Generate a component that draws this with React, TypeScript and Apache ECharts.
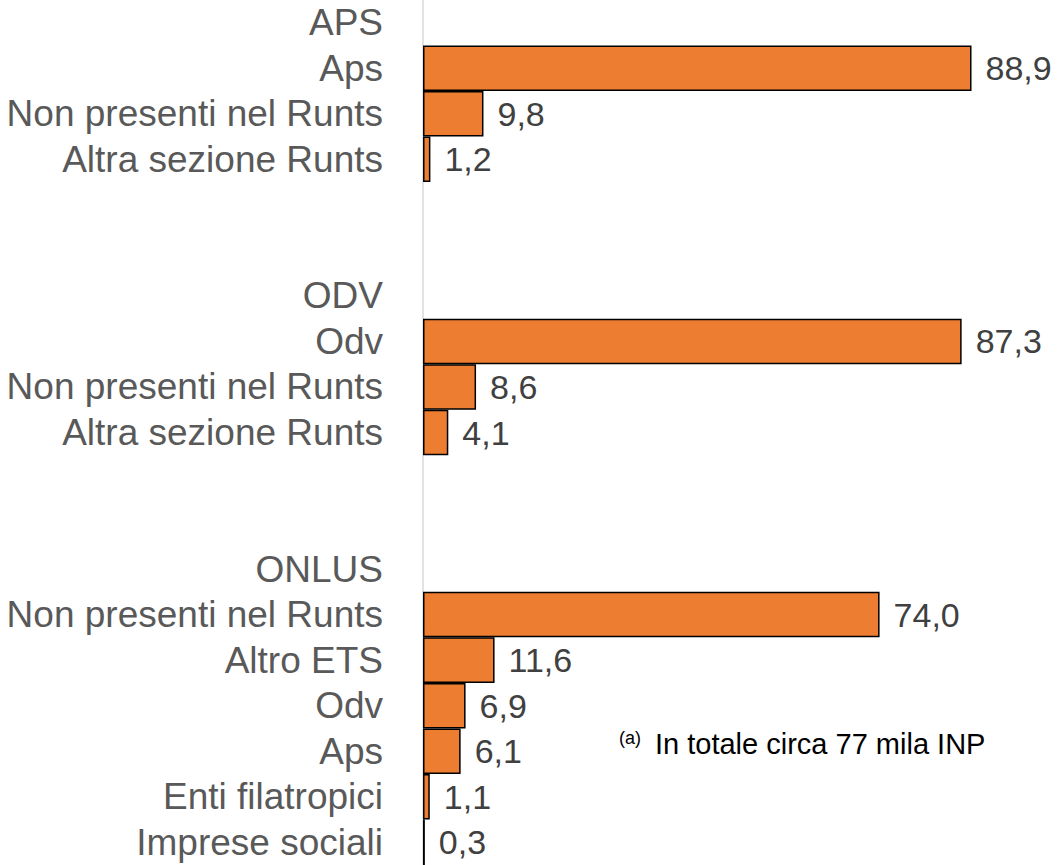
import React, { useEffect, useRef } from "react";
import * as echarts from "echarts";

const categories: string[] = [
  "APS",
  "Aps",
  "Non presenti nel Runts",
  "Altra sezione Runts",
  "",
  "",
  "ODV",
  "Odv",
  "Non presenti nel Runts",
  "Altra sezione Runts",
  "",
  "",
  "ONLUS",
  "Non presenti nel Runts",
  "Altro ETS",
  "Odv",
  "Aps",
  "Enti filatropici",
  "Imprese sociali",
];

const values: (number | null)[] = [
  null, 88.9, 9.8, 1.2, null, null,
  null, 87.3, 8.6, 4.1, null, null,
  null, 74.0, 11.6, 6.9, 6.1, 1.1, 0.3,
];

const footnoteMark = "(a)";
const footnoteText = "In totale circa 77 mila INP";

export default function App() {
  const ref = useRef<HTMLDivElement>(null);

  useEffect(() => {
    document.body.style.margin = "0";
    if (!ref.current) return;
    const chart = echarts.init(ref.current, null, { renderer: "svg" });
    chart.setOption({
      animation: false,
      backgroundColor: "#ffffff",
      grid: {
        left: 423,
        right: 24,
        top: 0,
        bottom: 0,
        containLabel: false,
        outerBoundsMode: "none",
      },
      xAxis: {
        type: "value",
        min: 0,
        max: 100,
        show: false,
      },
      yAxis: {
        type: "category",
        inverse: true,
        data: categories,
        axisLine: { show: true, lineStyle: { color: "#d9d9d9", width: 1.5 } },
        axisTick: { show: false },
        splitLine: { show: false },
        axisLabel: {
          interval: 0,
          margin: 40,
          color: "#595959",
          fontSize: 37,
          fontFamily: "'Liberation Sans', Arial, sans-serif",
        },
      },
      series: [
        {
          type: "bar",
          data: values,
          barCategoryGap: "0%",
          itemStyle: { color: "#ED7D31", borderColor: "#000000", borderWidth: 1.5 },
          label: {
            show: true,
            position: "right",
            distance: 14,
            color: "#404040",
            fontSize: 34,
            fontFamily: "'Liberation Sans', Arial, sans-serif",
            formatter: (p: any) =>
              p.value == null ? "" : Number(p.value).toFixed(1).replace(".", ","),
          },
        },
      ],
      graphic: [
        {
          type: "text",
          left: 619,
          top: 729,
          style: {
            text: footnoteMark,
            fontSize: 18,
            fontFamily: "'Liberation Sans', Arial, sans-serif",
            fill: "#000000",
          },
        },
        {
          type: "text",
          left: 655,
          top: 729,
          style: {
            text: footnoteText,
            fontSize: 29,
            fontFamily: "'Liberation Sans', Arial, sans-serif",
            fill: "#000000",
          },
        },
      ],
    });
    return () => chart.dispose();
  }, []);

  return <div ref={ref} style={{ width: 1064, height: 865 }} />;
}
